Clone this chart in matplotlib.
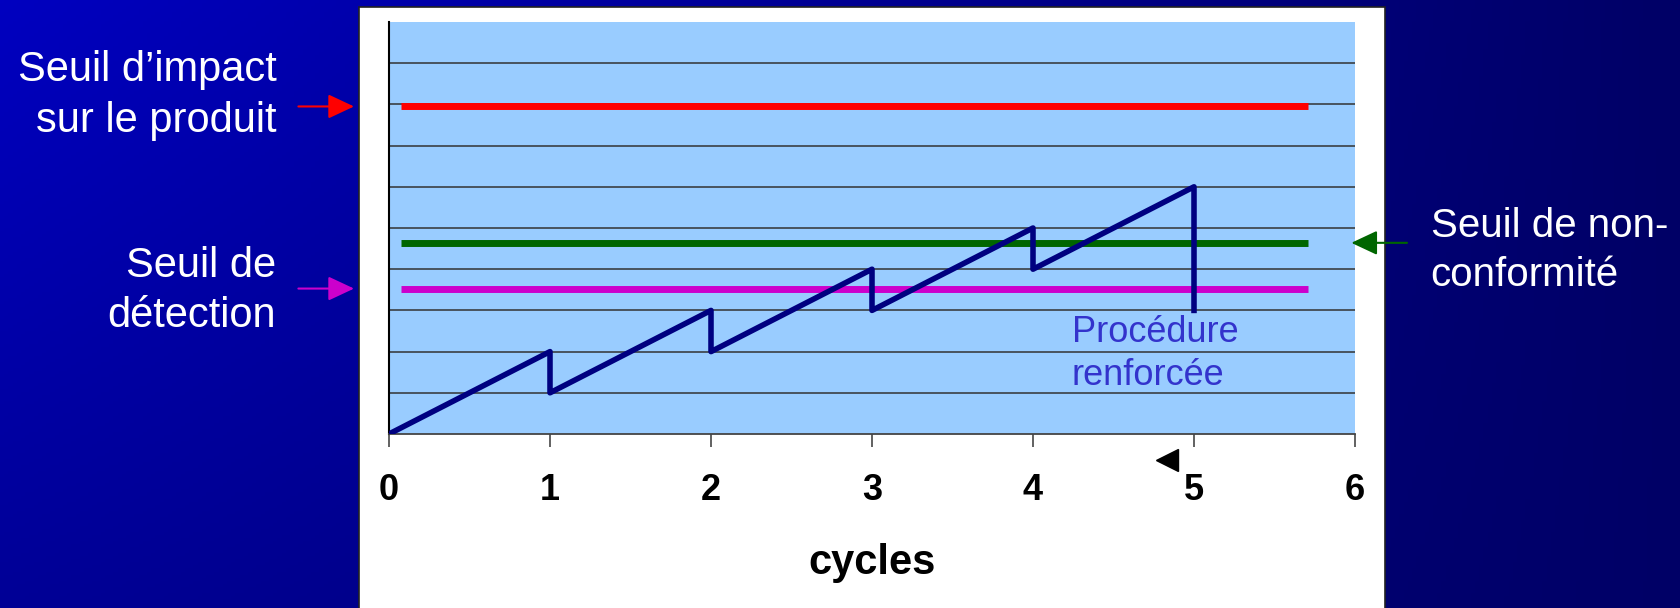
import numpy as np
import matplotlib
matplotlib.use("Agg")
from matplotlib import pyplot as plt
from matplotlib.patches import Rectangle

plt.rcParams['font.family'] = ['Liberation Sans', 'DejaVu Sans']

# sawtooth: contamination level over cycles
cycle_x = [0, 1, 1, 2, 2, 3, 3, 4, 4, 5, 5]
level_y = [0, 2, 1, 3, 2, 4, 3, 5, 4, 6, 3]

# thresholds (drawn from x_start to x_end)
x_start, x_end = 0.075, 5.71
seuil_impact = 7.95
seuil_nonconf = 4.64
seuil_detect = 3.53

x_ticks = [0, 1, 2, 3, 4, 5, 6]
grid_y = [1, 2, 3, 4, 5, 6, 7, 8, 9]

W, H = 1681, 608
fig = plt.figure(figsize=(W / 100, H / 100), dpi=100)

# background gradient
bg = fig.add_axes([0, 0, 1, 1], zorder=-10)
gx = np.linspace(0, 1, 400)[None, :]
gy = np.linspace(0, 1, 200)[:, None]
blue = (192 - 42 * gy) * (1 - gx) + 102 * gx
img = np.zeros((200, 400, 3))
img[..., 2] = blue / 255
bg.imshow(img, aspect='auto', extent=[0, 1, 0, 1], origin='upper')
bg.set_axis_off()

# white panel
fig.patches.append(Rectangle((359 / W, -0.01), (1385 - 359) / W, (608 - 7) / H + 0.01,
                             transform=fig.transFigure, facecolor='white',
                             edgecolor='#222222', lw=1.2, zorder=-5))

ax = fig.add_axes([389 / W, (H - 434) / H, (1355 - 389) / W, (434 - 22) / H])
ax.set_facecolor('#99CCFF')
ax.set_xlim(0, 6)
ax.set_ylim(0, 10)
for y in grid_y:
    ax.axhline(y, color='#333333', lw=1.1, zorder=1)
ax.set_yticks([])
ax.set_xticks(x_ticks)
ax.set_xticklabels([str(t) for t in x_ticks], fontsize=26, fontweight='bold')
ax.tick_params(axis='x', length=9, width=1.3, color='#555555', pad=19)
for s in ['top', 'right']:
    ax.spines[s].set_visible(False)
ax.spines['left'].set_color('black')
ax.spines['left'].set_linewidth(1.5)
ax.spines['bottom'].set_color('#444444')
ax.spines['bottom'].set_linewidth(1.3)
ax.set_xlabel('cycles', fontsize=30, fontweight='bold', labelpad=25)

ax.plot([x_start, x_end], [seuil_impact] * 2, color='#FF0000', lw=5, zorder=3,
        solid_capstyle='butt')
ax.plot([x_start, x_end], [seuil_nonconf] * 2, color='#006600', lw=5, zorder=3,
        solid_capstyle='butt')
ax.plot([x_start, x_end], [seuil_detect] * 2, color='#CC00CC', lw=5, zorder=3,
        solid_capstyle='butt')
ax.plot(cycle_x, level_y, color='#000080', lw=4, zorder=4, solid_joinstyle='round')

ax.text(4.24, 1.95, 'Procédure\nrenforcée', color='#3333CC', fontsize=26,
        ha='left', va='center', linespacing=1.3)
ax.plot([4.83], [-0.63], marker='<', color='black', markersize=16, clip_on=False)

# arrows and side labels
arrow = dict(arrowstyle='-|>,head_length=1.6,head_width=0.75', lw=1.5)
ax.annotate('', xy=(-0.2, seuil_impact), xytext=(-0.58, seuil_impact),
            arrowprops=dict(arrow, color='#FF0000'), annotation_clip=False)
ax.annotate('', xy=(-0.2, seuil_detect), xytext=(-0.58, seuil_detect),
            arrowprops=dict(arrow, color='#CC00CC'), annotation_clip=False)
ax.annotate('', xy=(5.96, seuil_nonconf), xytext=(6.34, seuil_nonconf),
            arrowprops=dict(arrow, color='#006600'), annotation_clip=False)

ax.text(-0.70, 8.22, 'Seuil d’impact\nsur le produit', color='white', fontsize=30,
        ha='right', va='center', linespacing=1.35)
ax.text(-0.70, 3.47, 'Seuil de\ndétection', color='white', fontsize=30,
        ha='right', va='center', linespacing=1.35)
ax.text(6.47, 4.45, 'Seuil de non-\nconformité', color='white', fontsize=29,
        ha='left', va='center', linespacing=1.35)

fig.savefig('out.png', dpi=100)
